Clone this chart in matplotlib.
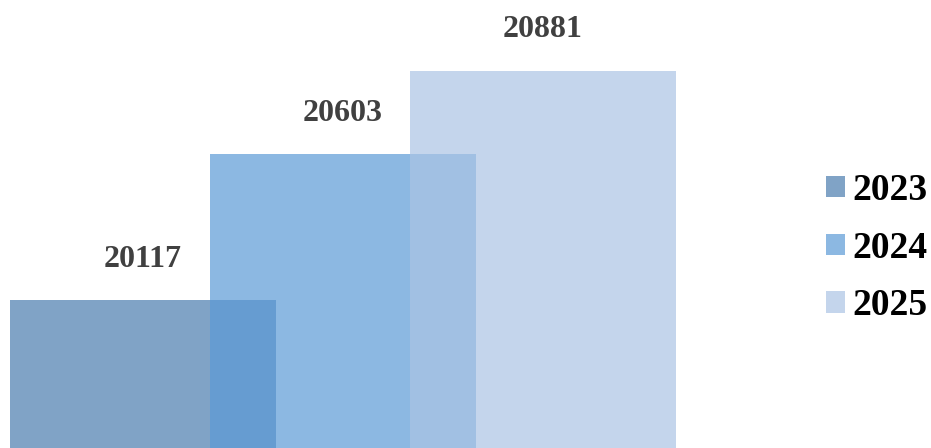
import matplotlib
matplotlib.use('Agg')
import matplotlib.pyplot as plt
import numpy as np

years = ['2023', '2024', '2025']
values = [20117, 20603, 20881]
colors = ['#4a7dae', '#5c9ad6', '#abc4e4']

plt.rcParams['font.family'] = ['Liberation Serif', 'DejaVu Serif']

W, H = 931, 448
fig = plt.figure(figsize=(W / 100, H / 100), dpi=100)
# axes in pixels: left 10, width 666, full height
ax = fig.add_axes([10 / W, 0, 666 / W, 1])

x = np.arange(len(values))
bars = []
for i, v in enumerate(values):
    b = ax.bar(x[i], v, width=1.33, color=colors[i], alpha=0.7,
               linewidth=0, label=years[i], zorder=2 + i)
    bars.append(b)
    ax.annotate(str(v), (x[i], v), xytext=(0, 41 * 0.72), textcoords='offset points',
                ha='center', va='center', fontsize=23, fontweight='bold',
                color='#404040')

ax.set_xlim(-0.665, 2.665)
ax.set_ylim(19624, 21117)
ax.axis('off')

leg = fig.legend(handles=[b[0] for b in bars], labels=years,
                 loc='center left', bbox_to_anchor=(826 / W, 1 - 248 / H),
                 frameon=False, prop={'size': 27, 'weight': 'bold'},
                 handlelength=0.5, handleheight=0.5, handletextpad=0.2,
                 labelspacing=0.61, borderpad=0, borderaxespad=0)

fig.savefig('out.png', dpi=100)
